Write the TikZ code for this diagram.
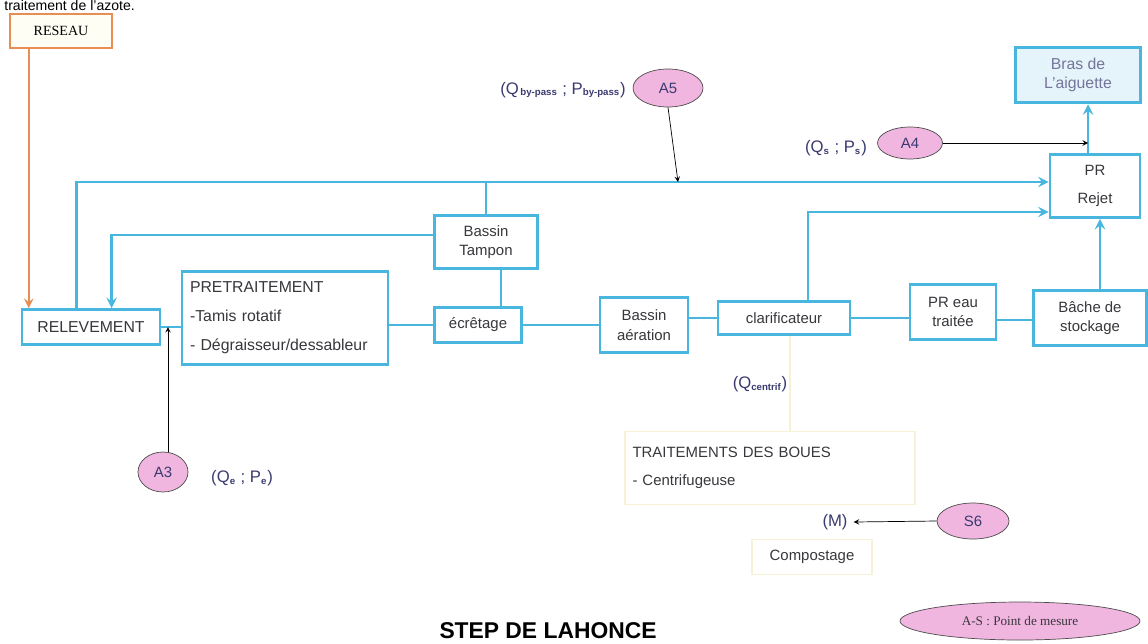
\documentclass[tikz,border=0pt]{standalone}
\usepackage{fontspec}
\setmainfont{Liberation Sans}
\newfontfamily\timesfont{Liberation Serif}
\usepackage{tikz}
\usetikzlibrary{shapes.geometric, arrows}
\definecolor{stepblue}{RGB}{72,182,222}
\definecolor{bluefill}{RGB}{228,244,250}
\definecolor{reseauorange}{RGB}{232,142,84}
\definecolor{mesurepink}{RGB}{240,182,224}
\definecolor{labelblue}{RGB}{58,58,112}
\definecolor{boxtext}{RGB}{55,55,60}
\definecolor{bouesyellow}{RGB}{246,242,214}
\tikzstyle{bluebox} = [rectangle, draw=stepblue, line width=1.6pt, fill=white, text=boxtext, font=\fontsize{8.5}{11}\selectfont, inner sep=1pt]
\tikzstyle{faintbox} = [rectangle, draw=bouesyellow, line width=1pt, text=boxtext, font=\fontsize{8.5}{11}\selectfont]
\tikzstyle{pinkell} = [ellipse, draw=black!70, fill=mesurepink, text=labelblue, inner sep=0pt, font=\fontsize{8.5}{10}\selectfont]
\tikzstyle{qlabel} = [text=labelblue, font=\fontsize{9.5}{11}\selectfont]
\tikzstyle{pipe} = [stepblue, line width=1.6pt]
\tikzstyle{pipearrow} = [pipe, ->, >=stealth]
\tikzstyle{arrow} = [thin, ->, >=stealth]
\newcommand{\sbs}[1]{\textsubscript{\bfseries\fontsize{5.5}{6}\selectfont #1}}

\begin{document}
\begin{tikzpicture}[x=0.02cm, y=-0.02cm, align=center]
      \useasboundingbox (0,0) rectangle (1148,643);

      \node (azote) [anchor=base west, inner sep=0pt, font=\fontsize{8}{10}\selectfont] at (4,10) {traitement de l'azote.};
      \node (reseau) [rectangle, draw=reseauorange, line width=1.4pt, fill=yellow!4, minimum width=2.04cm, minimum height=0.68cm, font=\timesfont\fontsize{8}{10}\selectfont] at (61,31) {RESEAU};

      \node (relevement) [bluebox, minimum width=2.76cm, minimum height=0.7cm, font=\fontsize{9}{11}\selectfont] at (91,327) {RELEVEMENT};
      \node (pretraitement) [bluebox, minimum width=4.12cm, minimum height=1.86cm, text width=3.8cm, align=left, font=\fontsize{9}{16.5}\selectfont] at (285,318) {PRETRAITEMENT\\-Tamis rotatif\\- Dégraisseur/dessableur};
      \node (ecretage) [bluebox, minimum width=1.74cm, minimum height=0.7cm] at (478,325) {écrêtage};
      \node (tampon) [bluebox, minimum width=2.06cm, minimum height=1.06cm] at (486,242) {Bassin\\Tampon};
      \node (aeration) [bluebox, minimum width=1.76cm, minimum height=1.1cm] at (644,325) {Bassin\\aération};
      \node (clarif) [bluebox, minimum width=2.64cm, minimum height=0.66cm] at (784,318) {clarificateur};
      \node (preau) [bluebox, minimum width=1.72cm, minimum height=1.1cm] at (953,312) {PR eau\\traitée};
      \node (bache) [bluebox, minimum width=2.26cm, minimum height=1.1cm] at (1090,318) {Bâche de\\stockage};
      \node (prrejet) [bluebox, minimum width=1.8cm, minimum height=1.26cm, font=\fontsize{8.5}{16}\selectfont] at (1095,186) {PR\\Rejet};
      \node (bras) [bluebox, fill=bluefill, line width=2pt, text=labelblue!70, minimum width=2.5cm, minimum height=1.1cm, font=\fontsize{9}{11}\selectfont] at (1078,75) {Bras de\\L'aiguette};

      \node (boues) [faintbox, minimum width=5.8cm, minimum height=1.46cm, text width=5.5cm, align=left, font=\fontsize{8.5}{16}\selectfont] at (770,468) {TRAITEMENTS DES BOUES\\- Centrifugeuse};
      \node (compost) [faintbox, minimum width=2.4cm, minimum height=0.7cm] at (812,557) {Compostage};

      \node (a5) [pinkell, minimum width=1.4cm, minimum height=0.76cm] at (668,88) {A5};
      \node (a4) [pinkell, minimum width=1.3cm, minimum height=0.64cm] at (910,143) {A4};
      \node (a3) [pinkell, minimum width=1.0cm, minimum height=0.8cm] at (163,472) {A3};
      \node (s6) [pinkell, minimum width=1.44cm, minimum height=0.72cm] at (973,521) {S6};
      \node (legende) [pinkell, text=boxtext, minimum width=4.8cm, minimum height=0.76cm, font=\timesfont\fontsize{7.5}{9}\selectfont] at (1020,621) {A-S : Point de mesure};

      \node (qbypass) [qlabel, anchor=east] at (632,90) {(Q\sbs{\,by-pass} ; P\sbs{by-pass})};
      \node (qs) [qlabel, anchor=east] at (873,148) {(Q\sbs{s} ; P\sbs{s})};
      \node (qe) [qlabel, anchor=west] at (205,478) {(Q\sbs{e} ; P\sbs{e})};
      \node (qcentrif) [qlabel] at (760,384) {(Q\sbs{centrif})};
      \node (mlabel) [qlabel] at (835,522) {(M)};
      \node (titre) [anchor=base, inner sep=0pt, font=\bfseries\fontsize{13}{15}\selectfont] at (548,638) {STEP DE LAHONCE};

      \coordinate (bypassy) at (0,182);

      \draw [reseauorange, line width=1.4pt, ->, >=stealth] ([xshift=0.4cm]reseau.south west) -- ([xshift=0.4cm]reseau.south west |- relevement.north);
      \draw [pipearrow] ([xshift=1.12cm]relevement.north west) |- ([yshift=0.08cm]prrejet.west);
      \draw [pipe] (tampon.north) -- (tampon.north |- bypassy);
      \draw [pipearrow] ([yshift=0.14cm]tampon.west) -| ([xshift=1.82cm]relevement.north west);
      \draw [pipe] ([xshift=0.3cm]tampon.south) -- ([xshift=0.3cm]tampon.south |- ecretage.north);
      \draw [pipe] (relevement.east) -- (pretraitement.west |- relevement.east);
      \draw [pipe] (pretraitement.east |- ecretage.west) -- (ecretage.west);
      \draw [pipe] (ecretage.east) -- (aeration.west |- ecretage.east);
      \draw [pipe] (aeration.east |- clarif.west) -- (clarif.west);
      \draw [pipe] (clarif.east) -- (preau.west |- clarif.east);
      \draw [pipe] ([yshift=-0.16cm]preau.east) -- ([yshift=-0.16cm]preau.east -| bache.west);
      \draw [pipearrow] ([xshift=0.48cm]clarif.north) |- ([yshift=-0.52cm]prrejet.west);
      \draw [pipearrow] ([xshift=0.2cm]bache.north) -- ([xshift=0.2cm]bache.north |- prrejet.south);
      \draw [pipearrow] ([xshift=-0.14cm]prrejet.north) -- ([xshift=-0.14cm]prrejet.north |- bras.south);
      \draw [bouesyellow, line width=1pt] ([xshift=0.12cm]clarif.south) -- ([xshift=0.12cm]clarif.south |- boues.north);

      \draw [arrow] ([xshift=0.1cm]a3.north) -- ([xshift=0.1cm]a3.north |- relevement.east);
      \draw [arrow] (a4.east) -- ([xshift=-0.14cm]prrejet.north |- a4.east);
      \draw [arrow] (a5.south) -- ([xshift=0.2cm]a5.south |- bypassy);
      \draw [arrow] (s6.west) -- (mlabel.east);
    \end{tikzpicture}
\end{document}
